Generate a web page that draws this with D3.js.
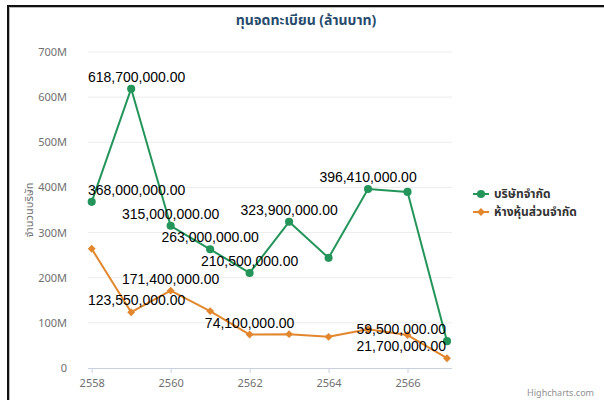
<!DOCTYPE html>
<html><head><meta charset="utf-8">
<script src="https://cdn.jsdelivr.net/npm/d3@7"></script>
<style>
html,body{margin:0;padding:0;background:#fff;}
svg{display:block;}
</style></head>
<body>
<svg id="c" width="604" height="400"></svg>
<script>
const years = [2558,2559,2560,2561,2562,2563,2564,2565,2566,2567];
const companyValues = [368000000,618700000,315000000,263000000,210500000,323900000,244000000,396410000,390000000,59500000];
const partnershipValues = [264000000,123550000,171400000,126000000,74100000,75000000,69000000,86000000,73000000,21700000];
const companyShowLabel = [true,true,true,true,true,true,false,true,false,true];
const partnershipShowLabel = [false,true,true,false,true,false,false,false,false,true];
const yTicks = [0,100000000,200000000,300000000,400000000,500000000,600000000,700000000];
const xTicks = [2558,2560,2562,2564,2566];
const seriesNames = ["บริษัทจำกัด","ห้างหุ้นส่วนจำกัด"];
const titleText = "ทุนจดทะเบียน (ล้านบาท)";
const yTitle = "จำนวนบริษัท";

const thai = "'Noto Sans Thai','Noto Sans','DejaVu Sans',sans-serif";
const arial = "'Liberation Sans',Arial,sans-serif";
const svg = d3.select("#c");
const plotL = 88, plotR = 452, plotT = 52, plotB = 368;
const x = d3.scaleLinear().domain([2558,2567]).range([91.7,447]);
const y = d3.scaleLinear().domain([0,700000000]).range([plotB,plotT]);

// frame
svg.append("rect").attr("x",9).attr("y",7).attr("width",700).attr("height",500)
  .attr("fill","none").attr("stroke","#bbb").attr("stroke-width",2);
svg.append("rect").attr("x",8).attr("y",6).attr("width",700).attr("height",500)
  .attr("fill","none").attr("stroke","#111").attr("stroke-width",2);

// grid
svg.append("g").selectAll("line").data(yTicks.filter(d=>d>0)).join("line")
  .attr("x1",plotL).attr("x2",plotR).attr("y1",d=>y(d)).attr("y2",d=>y(d))
  .attr("stroke","#ececec").attr("stroke-width",1);

// y axis labels
const yAxis = d3.axisLeft(y).tickValues(yTicks).tickSize(0).tickPadding(0)
  .tickFormat(d=> d===0 ? "0" : (d/1e6)+"M");
const ga = svg.append("g").attr("transform",`translate(${67},0)`).call(yAxis);
ga.select(".domain").remove();
ga.selectAll("text").attr("fill","#707070").style("font-family",thai).style("font-size","11px");

// x axis
const xAxis = d3.axisBottom(x).tickValues(xTicks).tickSize(5).tickPadding(6).tickFormat(d=>String(d));
const gx = svg.append("g").attr("transform",`translate(0,${plotB})`).call(xAxis);
gx.select(".domain").attr("d",`M${plotL},0.5H${plotR}`).attr("stroke","#c8d2dc");
gx.selectAll(".tick line").attr("stroke","#c8d2dc");
gx.selectAll("text").attr("fill","#707070").style("font-family",thai).style("font-size","11px");

// title
svg.append("text").attr("x",306).attr("y",25).attr("text-anchor","middle")
  .attr("fill","#274b6d").style("font-family",thai).style("font-size","14px").style("font-weight","bold")
  .text(titleText);

// y title
svg.append("text").attr("transform","translate(33,210) rotate(-90)").attr("text-anchor","middle")
  .attr("fill","#707070").style("font-family",thai).style("font-size","11px").text(yTitle);

const green = "#24955a", orange = "#e2872d";
const line = d3.line().x((d,i)=>x(years[i])).y(d=>y(d));

function drawSeries(vals, color, marker){
  svg.append("path").datum(vals).attr("d",line).attr("fill","none")
    .attr("stroke",color).attr("stroke-width",2).attr("stroke-linejoin","round");
  const sym = d3.symbol().type(marker==="circle"?d3.symbolCircle:d3.symbolDiamond2).size(marker==="circle"?52:40);
  svg.append("g").selectAll("path").data(vals).join("path")
    .attr("transform",(d,i)=>`translate(${x(years[i])},${y(d)})`)
    .attr("d",sym).attr("fill",color);
}
drawSeries(companyValues, green, "circle");
drawSeries(partnershipValues, orange, "diamond");

const fmt = d3.format(",.2f");
function drawLabels(vals, show){
  const g = svg.append("g");
  vals.forEach((v,i)=>{
    if(!show[i]) return;
    const t = g.append("text").attr("y",y(v)-7).attr("fill","#000")
      .style("font-family",arial).style("font-size","14px").text(fmt(v));
    const w = t.node().getComputedTextLength();
    let cx = x(years[i]);
    let left = cx - w/2;
    if(left < plotL) left = plotL;
    if(left + w > 446) left = 446 - w;
    t.attr("x",left);
  });
}
drawLabels(companyValues, companyShowLabel);
drawLabels(partnershipValues, partnershipShowLabel);

// legend
const legend = svg.append("g");
[[green,"circle"],[orange,"diamond"]].forEach((s,i)=>{
  const ly = 194 + i*18;
  legend.append("line").attr("x1",473).attr("x2",489).attr("y1",ly).attr("y2",ly)
    .attr("stroke",s[0]).attr("stroke-width",2);
  legend.append("path").attr("transform",`translate(481,${ly})`)
    .attr("d",d3.symbol().type(s[1]==="circle"?d3.symbolCircle:d3.symbolDiamond2).size(s[1]==="circle"?52:40)())
    .attr("fill",s[0]);
  legend.append("text").attr("x",494).attr("y",ly+4).attr("fill","#333")
    .style("font-family",thai).style("font-size","12px").style("font-weight","bold").text(seriesNames[i]);
});

// credit
svg.append("text").attr("x",594).attr("y",396).attr("text-anchor","end").attr("fill","#909090")
  .style("font-family",thai).style("font-size","9px").text("Highcharts.com");
</script>
</body></html>
